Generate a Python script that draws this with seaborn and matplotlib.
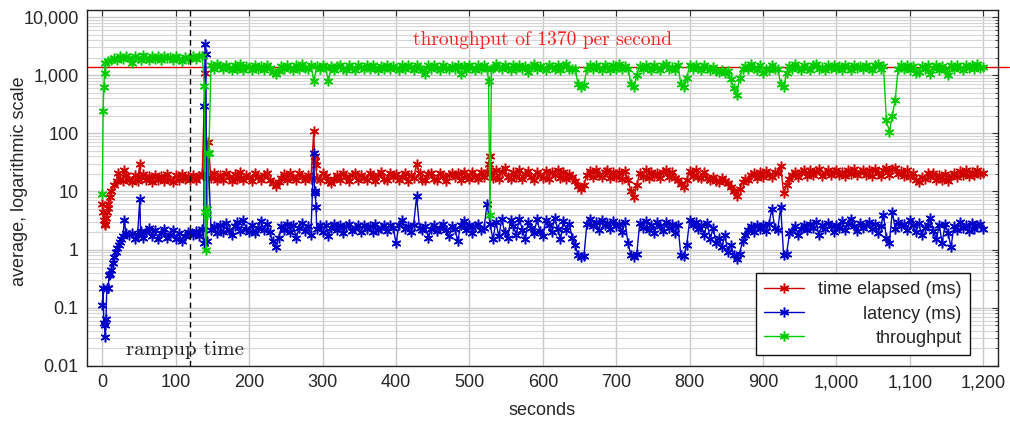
import matplotlib
matplotlib.use("Agg")
import matplotlib.pyplot as plt
import matplotlib.ticker as mticker
import pandas as pd
import seaborn as sns

# regular sampling grid of the load test (seconds)
seconds = list(range(0, 1201, 4))

throughput = [
    9, 1600, 1750, 1850, 1950, 1850, 2100, 1900, 2150, 1950,
    1650, 2100, 2000, 1850, 2200, 1950, 1800, 2100, 1900, 2150,
    1850, 2150, 1950, 2050, 1800, 2100, 1900, 1780, 2080, 1900,
    1980, 2150, 1900, 2100, 2150, 4.5, 45, 1500, 1300, 1550,
    1420, 1260, 1500, 1330, 1240, 1470, 1300, 1530, 1250, 1450,
    1380, 1240, 1500, 1300, 1450, 1220, 1520, 1310, 1150, 1050,
    1200, 1450, 1280, 1520, 1350, 1230, 1480, 1300, 1540, 1330,
    1260, 1480, 800, 1420, 1270, 1510, 1310, 800, 1460, 1250,
    1440, 1520, 1290, 1230, 1470, 1320, 1250, 1500, 1370, 1260,
    1480, 1280, 1520, 1340, 1220, 1460, 1300, 1500, 1260, 1450,
    1320, 1240, 1470, 1300, 1520, 1380, 1250, 1480, 1310, 1240,
    1050, 1470, 1280, 1520, 1330, 1240, 1490, 1350, 1260, 1460,
    1290, 1510, 1050, 1420, 1250, 1480, 1310, 1230, 1470, 1290,
    1500, 1300, 4, 1330, 1540, 1380, 1260, 1510, 1350, 1240,
    1480, 1290, 1520, 1260, 1440, 1120, 1400, 1530, 1270, 1460,
    1320, 1240, 1500, 1370, 1270, 1490, 1250, 1430, 1540, 1300,
    1260, 1290, 700, 620, 680, 1300, 1470, 1280, 1520, 1330,
    1250, 1480, 1360, 1240, 1470, 1300, 1530, 1270, 1460, 1300,
    700, 620, 1000, 1460, 1280, 1520, 1340, 1250, 1480, 1310,
    1240, 1470, 1540, 1290, 1400, 1250, 1480, 700, 620, 900,
    1470, 1290, 1520, 1340, 1250, 1480, 1310, 1240, 1400, 1200,
    1150, 1250, 1100, 1200, 850, 600, 450, 900, 1300, 1460,
    1280, 1530, 1350, 1250, 1480, 1100, 1300, 1240, 1470, 1290,
    1300, 700, 620, 1100, 1460, 1290, 1540, 1350, 1250, 1480,
    1320, 1240, 1470, 1530, 1280, 1400, 1250, 1490, 1320, 1510,
    1290, 1460, 1250, 1500, 1360, 1240, 1520, 1310, 1450, 1280,
    1490, 1340, 1250, 1470, 1530, 1290, 1420, 170, 105, 200,
    380, 1300, 1480, 1280, 1510, 1250, 1440, 1100, 1150, 1420,
    1260, 1500, 1050, 1330, 1520, 1250, 1430, 1240, 1000, 1480,
    1290, 1520, 1340, 1250, 1490, 1310, 1470, 1260, 1530, 1350,
    1400,
]

elapsed = [
    6, 2.7, 6, 10, 13, 15, 16.5, 15, 19, 16,
    14.5, 19, 15, 18, 20, 15.5, 18.5, 14.5, 19.5, 16,
    18.5, 15, 20, 16, 14.5, 19, 15.5, 20, 16.5, 18.5,
    15.5, 19.5, 16, 18.5, 20, 1100, 70, 17, 20.5, 15.5,
    19.5, 16, 21, 17.5, 15, 20, 16.5, 21.5, 15.5, 19,
    17.5, 15, 20.5, 18, 15.5, 19.5, 21, 16, 14, 12.5,
    14.5, 17, 20, 15.5, 21, 17, 15.5, 20.5, 18, 15.5,
    19.5, 16.5, 110, 17, 15.5, 20.5, 18.5, 15, 14, 16.5,
    19.5, 15.5, 21, 17.5, 15, 19.5, 21, 16, 19, 17,
    15.5, 20.5, 17.5, 15, 19.5, 21.5, 16.5, 15.5, 20.5, 17.5,
    20, 15.5, 18, 21, 15, 19.5, 17, 30, 20.5, 16,
    15.5, 20, 21, 16.5, 15.5, 20.5, 18.5, 15, 19, 21,
    17.5, 21, 16, 22, 19, 16.5, 22, 18, 16.5, 21.5,
    18, 22, 40, 17, 23, 16.5, 21.5, 25, 18, 16.5,
    21.5, 17.5, 23, 16.5, 20, 22.5, 17.5, 16, 22, 19,
    17, 22.5, 16.5, 21.5, 19, 23, 17, 21.5, 16.5, 20,
    18, 15, 12.5, 11, 13, 19, 22.5, 17.5, 23, 19.5,
    17.5, 21.5, 23, 17, 22, 18, 21.5, 16.5, 22.5, 16,
    10, 8, 13, 21, 18, 23, 17, 22, 18.5, 21,
    17, 22, 23, 18, 21.5, 17, 16, 13.5, 12, 16,
    22.5, 18.5, 23, 18, 17, 22, 17, 15.5, 17.5, 15,
    14.5, 17, 15, 14, 12, 10, 8.5, 11, 14.5, 16.5,
    15.5, 19, 21, 17, 22, 18, 22.5, 19.5, 17.5, 22,
    21, 27, 9.5, 13, 16.5, 19.5, 22, 18, 21.5, 23,
    18.5, 23, 19, 22.5, 24, 18.5, 21, 23.5, 19, 22,
    23.5, 19, 22, 18.5, 23, 20, 24, 19.5, 22, 23.5,
    19, 23, 18.5, 24, 21, 18.5, 23.5, 25, 19, 24,
    25, 20, 22.5, 18.5, 23, 18, 21, 16, 14.5, 17.5,
    16.5, 21, 18, 20.5, 16, 19.5, 15.5, 20, 15, 18.5,
    20.5, 18, 22.5, 19, 23, 18.5, 22, 19.5, 23, 20,
    21,
]

latency = [
    0.11, 0.031, 0.22, 0.45, 0.75, 1.05, 1.35, 1.7, 1.9, 1.8,
    1.9, 1.5, 1.8, 2.1, 1.6, 2.0, 2.4, 1.7, 2.2, 1.5,
    1.9, 2.3, 1.6, 1.8, 2.2, 1.5, 1.9, 1.4, 1.7, 2.0,
    1.9, 1.8, 2.1, 1.7, 2.3, 3500, 45, 2.2, 2.5, 1.9,
    2.6, 2.0, 2.9, 2.2, 1.8, 2.5, 3.0, 2.1, 3.2, 2.3,
    2.0, 2.7, 1.9, 2.4, 3.1, 2.2, 2.8, 2.0, 1.4, 1.1,
    1.6, 2.5, 2.2, 2.8, 2.0, 2.6, 1.6, 2.4, 2.9, 2.1,
    2.5, 1.8, 45, 2.3, 2.7, 2.0, 2.6, 1.7, 2.4, 2.8,
    2.2, 2.6, 1.9, 2.5, 2.8, 2.1, 2.4, 2.7, 2.0, 2.6,
    2.3, 2.5, 2.0, 2.8, 2.2, 2.4, 2.6, 2.1, 2.7, 2.4,
    1.3, 2.6, 3.2, 2.3, 2.5, 2.0, 2.7, 8.2, 2.4, 2.2,
    2.5, 1.6, 2.3, 2.6, 2.1, 2.4, 2.8, 2.2, 1.7, 2.5,
    2.3, 1.4, 2.6, 3.1, 2.2, 2.7, 1.9, 2.5, 2.8, 2.2,
    2.4, 6.0, 2.8, 1.5, 3.0, 1.7, 3.3, 2.0, 1.6, 3.2,
    2.5, 1.8, 3.4, 2.2, 1.5, 3.0, 2.4, 1.9, 3.3, 2.1,
    1.7, 3.2, 2.6, 2.0, 3.5, 2.3, 1.5, 3.1, 2.2, 2.8,
    1.6, 1.2, 0.8, 0.75, 0.78, 2.8, 3.3, 2.5, 3.0, 2.2,
    3.2, 2.6, 2.9, 2.3, 3.1, 2.5, 2.8, 2.0, 3.0, 1.3,
    0.8, 0.75, 0.85, 2.9, 2.4, 3.1, 2.2, 2.7, 1.9, 3.0,
    2.5, 2.1, 3.0, 2.4, 2.8, 1.9, 2.6, 0.8, 0.78, 1.2,
    3.2, 2.7, 3.0, 2.3, 2.6, 1.8, 2.9, 1.5, 2.4, 1.3,
    1.6, 1.1, 1.8, 0.9, 1.2, 0.8, 0.7, 0.85, 1.4, 1.8,
    2.2, 2.5, 2.0, 2.7, 2.3, 2.6, 2.1, 2.8, 5.0, 2.4,
    2.2, 5.5, 0.8, 0.85, 1.9, 2.1, 2.5, 1.8, 2.3, 2.6,
    2.2, 2.8, 2.4, 3.0, 1.8, 2.6, 2.3, 2.9, 2.5, 2.0,
    2.7, 2.4, 3.1, 2.2, 2.8, 3.3, 2.5, 2.1, 2.9, 2.4,
    2.6, 3.0, 2.3, 2.8, 1.9, 2.5, 4.0, 1.6, 1.3, 4.5,
    2.3, 3.0, 2.5, 2.8, 2.2, 3.2, 2.6, 2.0, 2.9, 1.8,
    2.4, 2.7, 3.5, 2.1, 1.5, 2.6, 1.3, 2.8, 1.9, 1.1,
    2.5, 2.2, 3.0, 2.4, 2.7, 2.1, 2.9, 2.3, 2.6, 2.8,
    2.3,
]

# additional one-second samples around start-up and disturbances
throughput_extra_t = [1, 2, 3, 139, 141, 142, 143, 145, 526, 530]
throughput_extra_v = [240, 620, 1100, 650, 1.0, 5, 4, 45, 800, 1300]

elapsed_extra_t = [1, 2, 3, 5, 6, 7, 10, 21, 29, 51, 142, 289, 290, 291, 526, 530]
elapsed_extra_v = [4.5, 3.2, 2.8, 3.5, 4.5, 5.2, 8, 21, 23, 30, 17, 40, 33, 28, 30, 22]

latency_extra_t = [1, 2, 3, 5, 6, 7, 9, 10, 14, 18, 22, 26, 30, 51,
                   138, 139, 141, 142, 289, 290, 291]
latency_extra_v = [0.22, 0.055, 0.05, 0.065, 0.22, 0.22, 0.36, 0.38, 0.6, 0.9, 1.2, 1.5, 3.2, 7.5,
                   1.3, 300, 2300, 1.4, 10, 9.5, 5.5]

series_labels = ["time elapsed (ms)", "latency (ms)", "throughput"]
series_colors = ["#d00000", "#0000c8", "#00cc00"]

target_rate = 1370
rampup_end = 120

x_ticks = [0, 100, 200, 300, 400, 500, 600, 700, 800, 900, 1000, 1100, 1200]
y_ticks = [0.01, 0.1, 1, 10, 100, 1000, 10000]
y_tick_labels = ["0.01", "0.1", "1", "10", "100", "1,000", "10,000"]


def build_frame(base, extra_t, extra_v, label):
    df = pd.DataFrame({"seconds": seconds + extra_t, "value": base + extra_v})
    df["series"] = label
    return df.sort_values("seconds", kind="stable")


frames = [
    build_frame(elapsed, elapsed_extra_t, elapsed_extra_v, series_labels[0]),
    build_frame(latency, latency_extra_t, latency_extra_v, series_labels[1]),
    build_frame(throughput, throughput_extra_t, throughput_extra_v, series_labels[2]),
]

sns.set_theme(style="white")
plt.rcParams["font.family"] = ["Liberation Sans", "DejaVu Sans"]
plt.rcParams["font.size"] = 13

fig = plt.figure(figsize=(10.10, 4.25), dpi=100)
ax = fig.add_axes([0.0861, 0.139, 0.9020, 0.8375])

ax.set_yscale("log")
ax.set_xlim(-21, 1220)
ax.set_ylim(0.01, 1.32e4)

# grid
ax.grid(True, which="major", axis="both", color="#c8c8c8", linewidth=1.0, zorder=0)
ax.grid(True, which="minor", axis="y", color="#d6d6d6", linewidth=0.8, zorder=0)
ax.set_axisbelow(True)

# reference rate line
ax.axhline(target_rate, xmin=0, xmax=1.012, color="#e00000", linewidth=1.0,
           clip_on=False, zorder=1)

star = (6, 2, 0)
for df, label, color in zip(frames, series_labels, series_colors):
    sns.lineplot(data=df, x="seconds", y="value", ax=ax, color=color, label=label,
                 estimator=None, sort=False, linewidth=1.0, marker=star,
                 markersize=7, markeredgewidth=1.1, markeredgecolor=color, zorder=3)

ax.axvline(rampup_end, color="black", linewidth=1.0, linestyle=(0, (4, 3)), zorder=4)

ax.text(112, 0.0188, "rampup time", family="cmr10", fontsize=15, color="#202020",
        ha="center", va="center", zorder=5)
ax.text(600, 4000, f"throughput of {target_rate} per second", family="cmr10",
        fontsize=14, color="#ff2020", ha="center", va="center", zorder=5)

ax.xaxis.set_major_locator(mticker.FixedLocator(x_ticks))
ax.xaxis.set_major_formatter(mticker.FuncFormatter(lambda v, p: f"{int(v):,}"))
ax.xaxis.set_minor_locator(mticker.NullLocator())
ax.yaxis.set_major_locator(mticker.FixedLocator(y_ticks))
ax.yaxis.set_major_formatter(mticker.FixedFormatter(y_tick_labels))
ax.yaxis.set_minor_locator(mticker.LogLocator(base=10, subs=range(2, 10), numticks=20))
ax.yaxis.set_minor_formatter(mticker.NullFormatter())

ax.tick_params(axis="both", which="both", direction="in", top=True, right=True,
               color="#333333")
ax.tick_params(axis="both", which="major", length=4, width=0.8, labelsize=13, pad=6)
ax.tick_params(axis="y", which="minor", length=2.5, width=0.6)

for spine in ax.spines.values():
    spine.set_color("#222222")
    spine.set_linewidth(1.0)

ax.set_xlabel("seconds", fontsize=13, labelpad=8)
ax.set_ylabel("average, logarithmic scale", fontsize=13)
ax.yaxis.set_label_coords(-0.065, 0.52)

leg = ax.legend(loc="lower right", bbox_to_anchor=(0.969, 0.031), borderaxespad=0,
                frameon=True, fancybox=False, edgecolor="#111111", framealpha=1,
                fontsize=13, handlelength=2.2, handletextpad=0.8, labelspacing=0.4,
                borderpad=0.45, numpoints=1)
leg.get_frame().set_linewidth(1.0)

# right-align the legend entries by shifting the shorter labels
fig.canvas.draw()
renderer = fig.canvas.get_renderer()
widths = [t.get_window_extent(renderer).width for t in leg.get_texts()]
widest = max(widths)
for t, w in zip(leg.get_texts(), widths):
    t.set_position((widest - w, 0))

fig.savefig("out.png", dpi=100)
